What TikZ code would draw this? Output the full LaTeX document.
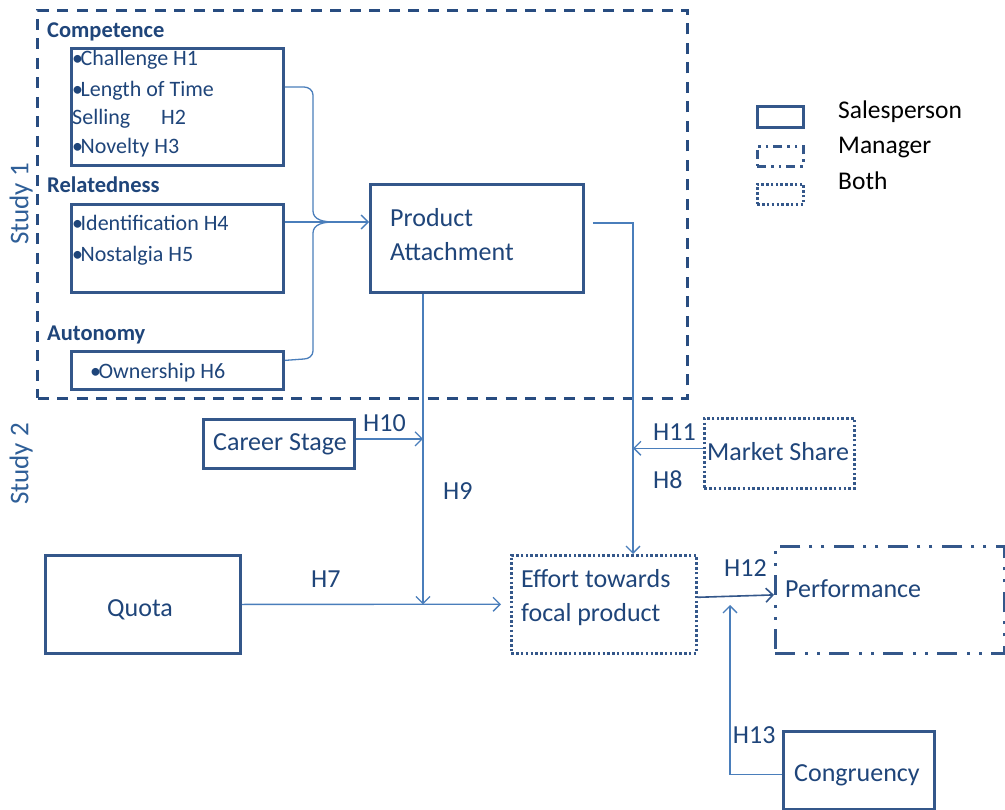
\documentclass[tikz,border=0pt]{standalone}
\usepackage{fontspec}
\setmainfont{Carlito}
\usetikzlibrary{arrows.meta}
\definecolor{boxc}{HTML}{34578A}
\definecolor{txtc}{HTML}{1F457A}
\definecolor{arrc}{HTML}{4A7EBB}
\definecolor{studyc}{HTML}{2F5F98}
\definecolor{outerc}{HTML}{284C80}
\newcommand{\bul}{•\kern-2.5pt}
\begin{document}
\begin{tikzpicture}[x=1pt,y=-1pt,
  box/.style={draw=boxc, line width=2.8pt, inner sep=0pt, anchor=north west},
  dotbox/.style={box, line width=2.6pt, dash pattern=on 2.5pt off 2.3pt},
  mgrbox/.style={box, dash pattern=on 20pt off 10pt on 3pt off 9pt on 3pt off 9pt},
  mgrsmall/.style={box, dash pattern=on 9pt off 5pt on 2.5pt off 5pt on 2.5pt off 5pt},
  lbl/.style={anchor=base west, inner sep=0pt, text=txtc, font=\fontsize{26}{31}\selectfont},
  sm/.style={anchor=base west, inner sep=0pt, text=txtc, font=\fontsize{22}{26}\selectfont},
  smb/.style={anchor=base west, inner sep=0pt, text=txtc, font=\fontsize{22.5}{26}\selectfont\bfseries},
  leg/.style={anchor=base west, inner sep=0pt, text=black, font=\fontsize{25.5}{31}\selectfont},
  study/.style={anchor=base west, inner sep=0pt, rotate=90, text=studyc, font=\fontsize{27}{32}\selectfont},
  tip/.style={-{Straight Barb[length=7pt,width=14pt]}},
  conn/.style={draw=arrc, line width=1.3pt, tip},
  brace/.style={draw=arrc, line width=1.3pt}
]
\useasboundingbox[fill=white] (0,0) rectangle (1005,810);

% Study 1 frame
\node[draw=outerc, line width=3pt, dash pattern=on 11pt off 8.5pt, inner sep=0pt, anchor=north west,
  minimum width=650pt, minimum height=388pt] (study1) at (36,9) {};
\node[study] (s1lbl) at (28.3,245) {Study 1};
\node[study] (s2lbl) at (28.3,505) {Study 2};

% Competence
\node[smb] (comph) at (47,37.7) {Competence};
\node[box, minimum width=212pt, minimum height=117pt] (comp) at (70,47) {};
\node[sm] (c1) at (72,66) {\bul Challenge H1};
\node[sm] (c2) at (72,96.7) {\bul Length of Time};
\node[sm] (c3) at (72,125) {Selling};
\node[sm] (c3b) at (161,125) {H2};
\node[sm] (c4) at (72,154) {\bul Novelty H3};

% Relatedness
\node[smb] (relh) at (47,193) {Relatedness};
\node[box, minimum width=212pt, minimum height=88pt] (rel) at (70,203) {};
\node[sm] (r1) at (72,231) {\bul Identification H4};
\node[sm] (r2) at (72,261.7) {\bul Nostalgia H5};

% Autonomy
\node[smb] (auth) at (47,340.7) {Autonomy};
\node[box, minimum width=212pt, minimum height=38pt] (auto) at (70,350) {};
\node[sm] (a1) at (90,379) {\bul Ownership H6};

% Product Attachment
\node[box, minimum width=213pt, minimum height=108pt] (pa) at (369,183) {};
\node[lbl] (pa1) at (390,226.7) {Product};
\node[lbl] (pa2) at (390,261) {Attachment};

% Career Stage
\node[box, minimum width=151pt, minimum height=49pt] (career) at (202,418) {};
\node[lbl] (careert) at (213,450.7) {Career Stage};

% Quota
\node[box, minimum width=195pt, minimum height=98pt] (quota) at (44,554) {};
\node[lbl] (quotat) at (107,616.7) {Quota};

% Effort
\node[dotbox, minimum width=185pt, minimum height=98pt] (effort) at (510,554) {};
\node[lbl] (ef1) at (521,587) {Effort towards};
\node[lbl] (ef2) at (521,621) {focal product};

% Market Share
\node[dotbox, minimum width=150pt, minimum height=70pt] (ms) at (703,417) {};
\node[lbl] (mst) at (707,460.7) {Market Share};

% Performance
\node[mgrbox, minimum width=229pt, minimum height=107pt] (perf) at (774,545) {};
\node[lbl] (perft) at (785,597) {Performance};

% Congruency
\node[box, minimum width=151pt, minimum height=78pt] (cong) at (782,730) {};
\node[lbl] (congt) at (794,781.7) {Congruency};

% Hypothesis labels
\node[lbl] (h10) at (363,431.7) {H10};
\node[lbl] (h9) at (443,500) {H9};
\node[lbl] (h7) at (311,587) {H7};
\node[lbl] (h11) at (653,440.7) {H11};
\node[lbl] (h8) at (653,489) {H8};
\node[lbl] (h12) at (724,576.7) {H12};
\node[lbl] (h13) at (732.7,743) {H13};

% Legend
\node[box, minimum width=46pt, minimum height=21pt] (legs) at (756,105) {};
\node[mgrsmall, minimum width=46pt, minimum height=20pt] (legm) at (756,145) {};
\node[dotbox, minimum width=46pt, minimum height=20pt] (legb) at (756,183) {};
\node[leg] (legst) at (838,119) {Salesperson};
\node[leg] (legmt) at (838,153.3) {Manager};
\node[leg] (legbt) at (838,189.3) {Both};

% Connectors
\coordinate (bj) at (333,222);
\coordinate (v1) at ([xshift=54pt]pa.south west);
\coordinate (v2) at (633,0);
\coordinate (v3) at (730,605);
\coordinate (msw) at ([yshift=5pt]ms.west);
\coordinate (cw) at ([yshift=5pt]career.east);

\draw[brace] ([yshift=-40pt]comp.north east) -- (304,87) to[out=0,in=90] (313,95) -- (313,211) to[out=-90,in=180] (bj);
\draw[brace] ([yshift=10pt]auto.east) -- (304,359) to[out=0,in=-90] (313,351) -- (313,233) to[out=90,in=180] (bj);
\draw[conn] ([yshift=-19pt]rel.north east) -- (pa.west |- bj);

\draw[conn] ([xshift=8pt,yshift=-40pt]pa.north east) -| (v2 |- effort.north);
\draw[conn] (v1) -- (v1 |- quota.east);
\draw[conn] (quota.east) -- ([xshift=-9pt]effort.west);
\draw[conn] (cw) -- (v1 |- cw);
\draw[conn] (msw) -- (v2 |- msw);
\draw[draw=boxc, line width=1.6pt, tip] ([yshift=7pt]effort.east) -- ([yshift=5pt]perf.west);
\draw[conn] ([yshift=-4pt]cong.west) -| (v3);
\end{tikzpicture}
\end{document}
